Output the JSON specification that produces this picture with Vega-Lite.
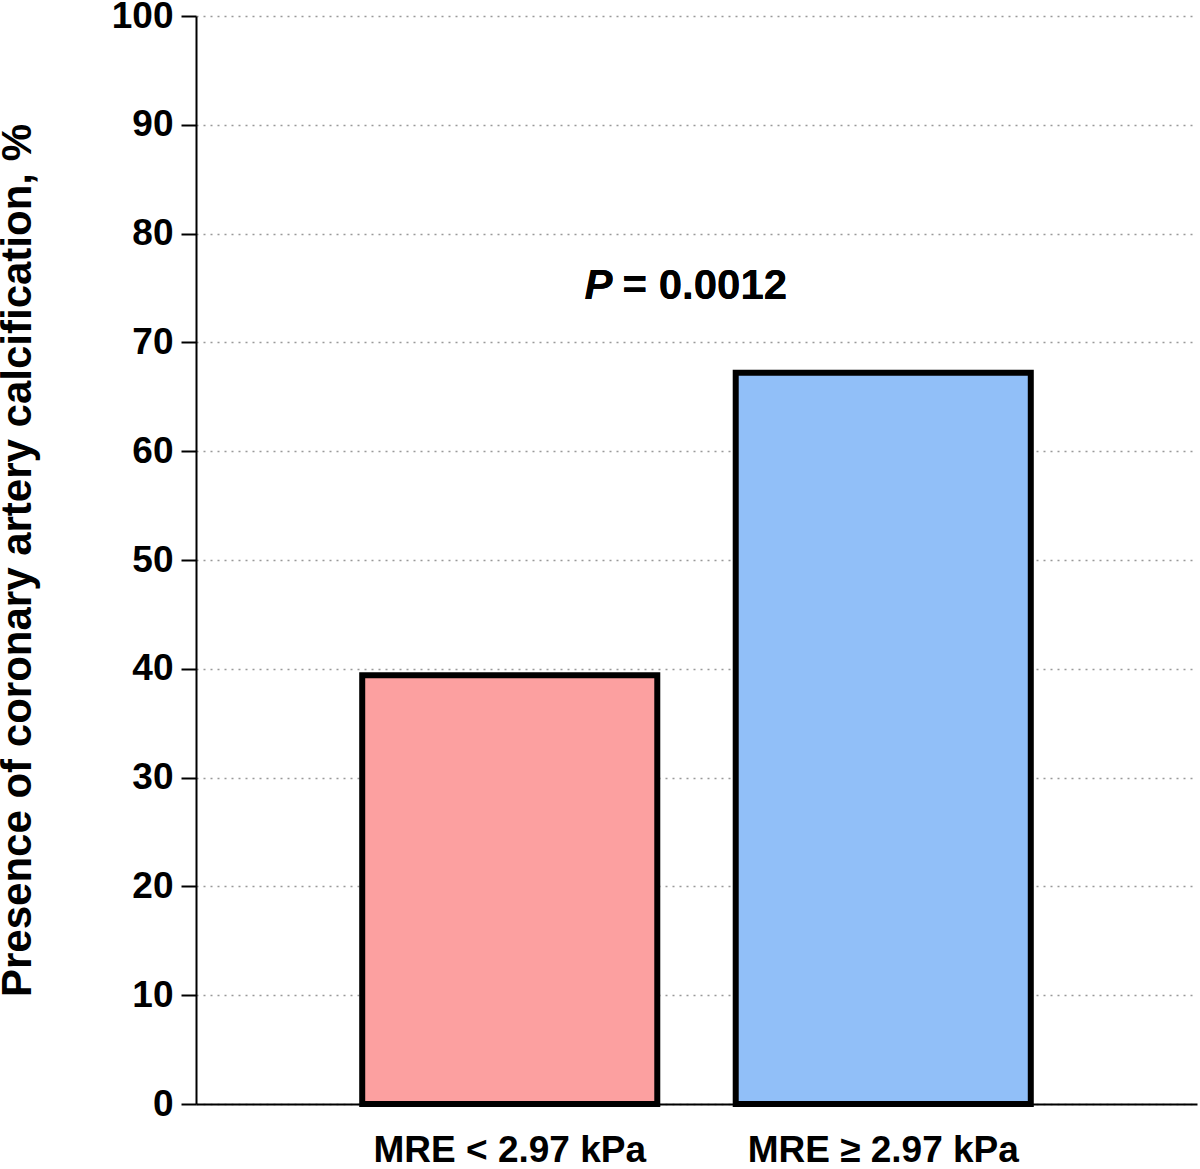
{
  "$schema": "https://vega.github.io/schema/vega-lite/v6.json",
  "width": 1001,
  "height": 1088,
  "autosize": {"type": "none"},
  "padding": {"left": 196, "top": 16, "right": 3, "bottom": 65},
  "background": "white",
  "config": {
    "view": {"stroke": null},
    "font": "Liberation Sans"
  },
  "data": {
    "values": [
      {"group": "MRE < 2.97 kPa", "pct": 39.4},
      {"group": "MRE ≥ 2.97 kPa", "pct": 67.2}
    ]
  },
  "layer": [
    {
      "mark": {"type": "bar", "stroke": "black", "strokeWidth": 6},
      "encoding": {
        "x": {
          "field": "group",
          "type": "nominal",
          "sort": null,
          "scale": {"paddingInner": 0.21, "paddingOuter": 0.445},
          "axis": {
            "title": null,
            "labelAngle": 0,
            "labelFontSize": 37,
            "labelFontWeight": "bold",
            "labelColor": "black",
            "labelPadding": 28,
            "labelLimit": 0,
            "ticks": false,
            "domainColor": "black",
            "domainWidth": 2,
            "grid": false
          }
        },
        "y": {
          "field": "pct",
          "type": "quantitative",
          "scale": {"domain": [0, 100], "nice": false},
          "axis": {
            "title": "Presence of coronary artery calcification, %",
            "titleFontSize": 42,
            "titleFontWeight": "bold",
            "titleColor": "black",
            "titlePadding": 72,
            "values": [0, 10, 20, 30, 40, 50, 60, 70, 80, 90, 100],
            "labelFontSize": 37,
            "labelFontWeight": "bold",
            "labelColor": "black",
            "labelPadding": 8,
            "tickSize": 15,
            "tickWidth": 2,
            "tickColor": "black",
            "domainColor": "black",
            "domainWidth": 2,
            "grid": true,
            "gridColor": "#999999",
            "gridDash": [2, 5],
            "gridWidth": 1.5
          }
        },
        "color": {
          "field": "group",
          "type": "nominal",
          "scale": {"range": ["#FCA0A0", "#91BFF8"]},
          "legend": null
        }
      }
    },
    {
      "mark": {"type": "text", "text": "P", "fontStyle": "italic", "fontWeight": "bold", "fontSize": 42, "align": "right", "baseline": "alphabetic", "dx": -84, "color": "black"},
      "encoding": {"y": {"datum": 74}}
    },
    {
      "mark": {"type": "text", "text": "= 0.0012", "fontWeight": "bold", "fontSize": 42, "align": "left", "baseline": "alphabetic", "dx": -74, "color": "black"},
      "encoding": {"y": {"datum": 74}}
    }
  ]
}
